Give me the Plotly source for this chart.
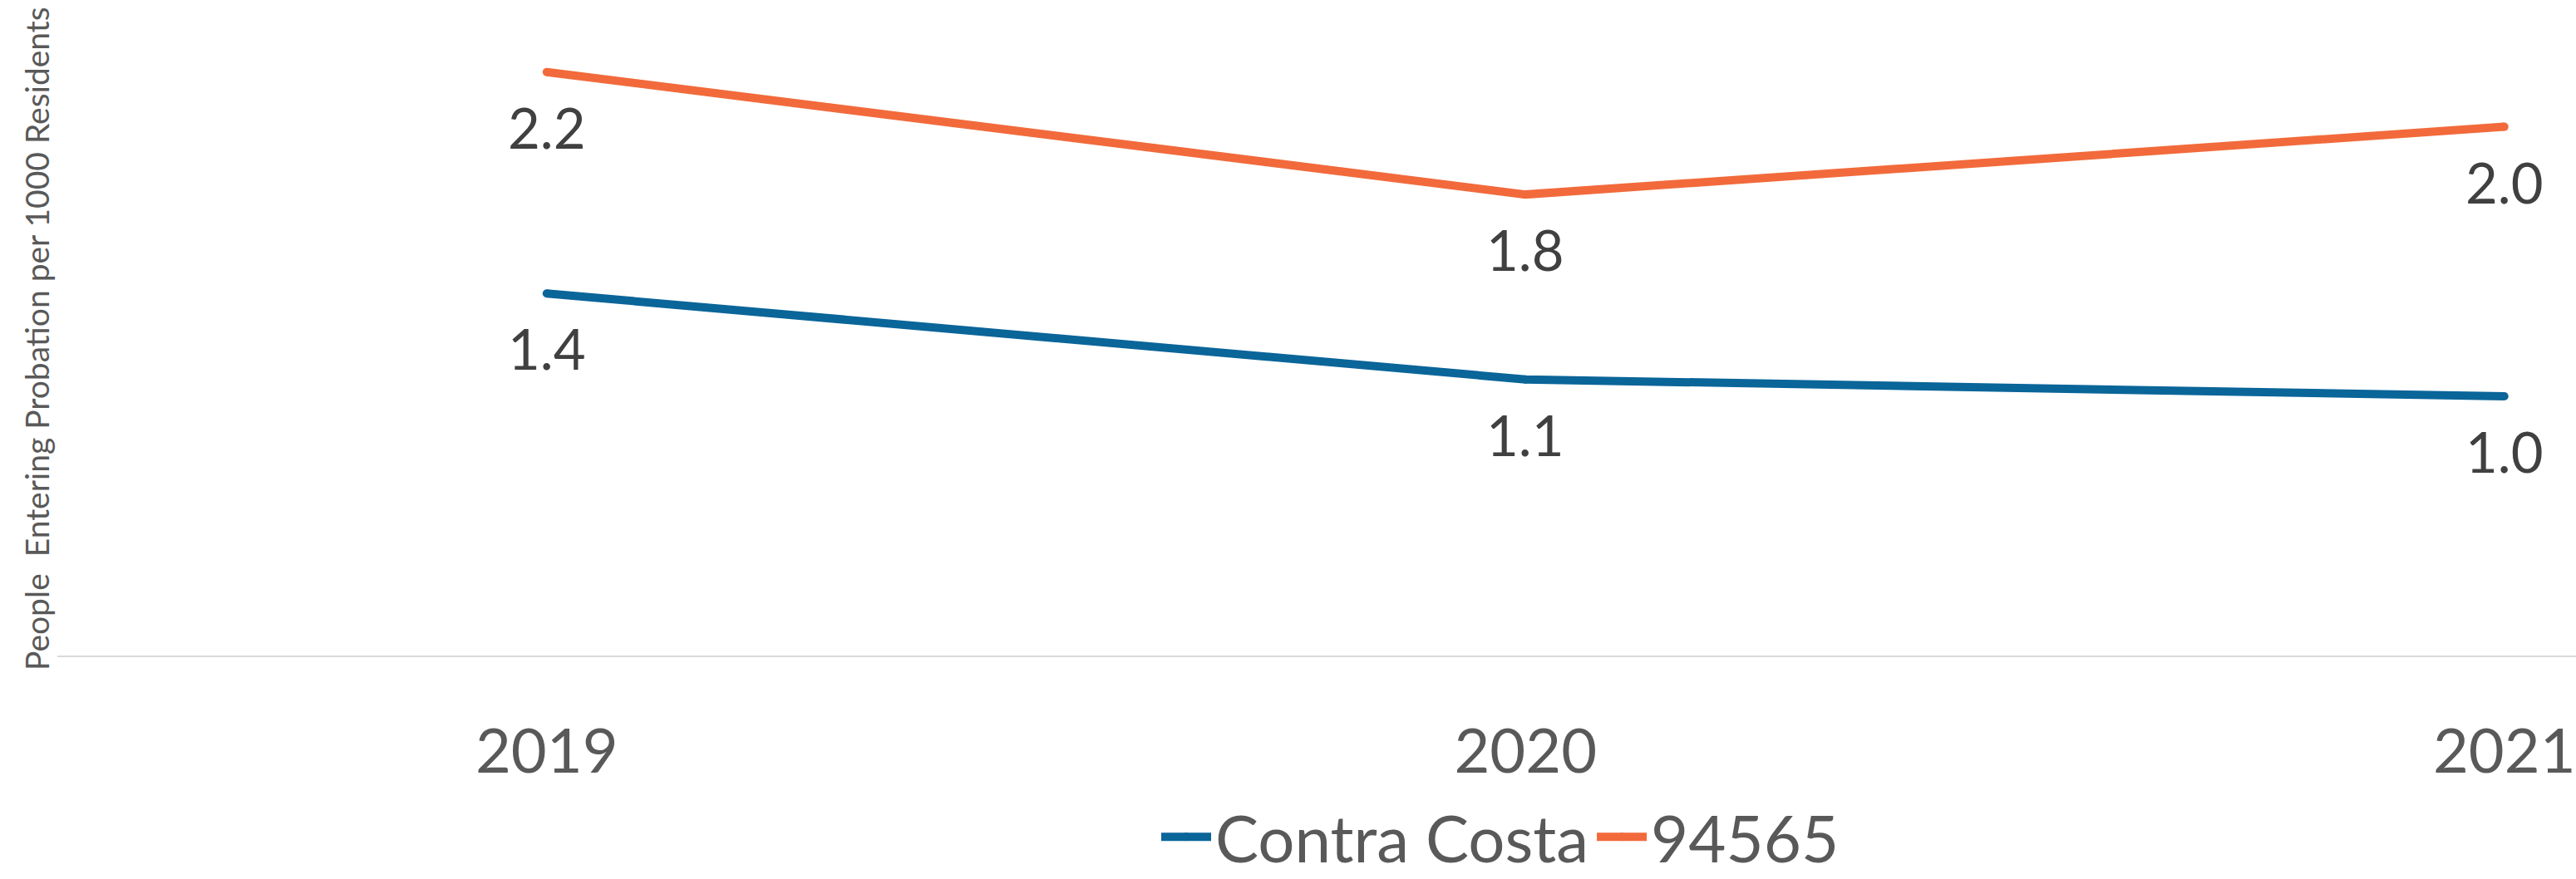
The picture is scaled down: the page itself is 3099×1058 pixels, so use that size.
import plotly.graph_objects as go

# Probation entry rates per 1,000 residents
years = ["2019", "2020", "2021"]
contra_costa = [1.39, 1.06, 0.995]
zip_94565 = [2.24, 1.77, 2.03]

series_names = ["Contra Costa", "94565"]
series_colors = ["#0a6599", "#f26a3b"]
series_values = [contra_costa, zip_94565]

W, H = 3099, 1058
M_L, M_R, M_T, M_B = 69, 0, 0, 269
PX_PER_UNIT = 313.5
plot_h = H - M_T - M_B
plot_w = W - M_L - M_R

fig = go.Figure()
for name, color, vals in zip(series_names, series_colors, series_values):
    fig.add_trace(go.Scatter(
        x=years, y=vals, name=name, mode="lines+markers",
        line=dict(color=color, width=10),
        marker=dict(color=color, size=10),
        hoverinfo="skip",
    ))
    # value labels under each point (category index used as the anchor)
    for i, v in enumerate(vals):
        fig.add_annotation(
            x=i, y=v, xref="x", yref="y", text=f"{v:.1f}",
            showarrow=False, yanchor="middle", yshift=-66,
            font=dict(family="Lato", size=67, color="#404040"),
        )

fig.add_annotation(
    xref="paper", yref="paper", x=(44 - M_L) / plot_w, y=(plot_h - 408) / plot_h,
    text="People  Entering Probation per 1000 Residents", textangle=-90,
    showarrow=False, xanchor="center", yanchor="middle",
    font=dict(family="Lato", size=39, color="#595959"),
)

fig.update_layout(
    width=W, height=H,
    margin=dict(l=M_L, r=M_R, t=M_T, b=M_B, autoexpand=False),
    paper_bgcolor="white", plot_bgcolor="white",
    showlegend=True,
    legend=dict(
        orientation="h", x=(1805 - M_L) / plot_w, xanchor="center",
        y=-(950 - plot_h) / plot_h, yanchor="top",
        font=dict(family="Lato", size=78, color="#595959"),
        itemwidth=60, bgcolor="rgba(0,0,0,0)", borderwidth=0,
    ),
    xaxis=dict(
        type="category", range=[-0.5, (W - M_L) / 1177.5 - 0.5],
        showgrid=False, zeroline=False, showline=True,
        linecolor="#d9d9d9", linewidth=2, ticks="",
        tickfont=dict(family="Lato", size=74, color="#595959"),
        ticklabelstandoff=50, automargin=False,
    ),
    yaxis=dict(
        range=[0, plot_h / PX_PER_UNIT], showgrid=False, zeroline=False,
        showticklabels=False, ticks="", showline=False, automargin=False,
    ),
)

fig.write_html("out.html")
